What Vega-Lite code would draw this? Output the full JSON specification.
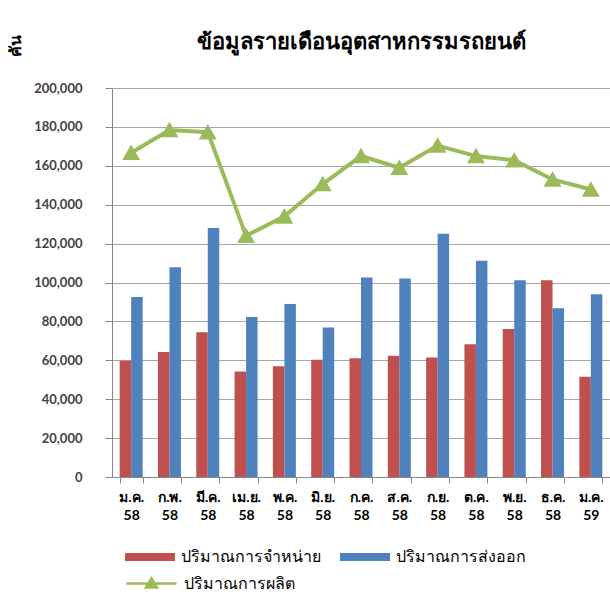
{
  "$schema": "https://vega.github.io/schema/vega-lite/v6.json",
  "autosize": "none",
  "width": 498,
  "height": 389,
  "padding": {"left": 112, "top": 88, "right": 0, "bottom": 125},
  "background": "white",
  "config": {"view": {"stroke": null}, "font": "Lato"},
  "title": {"text": "ข้อมูลรายเดือนอุตสาหกรรมรถยนต์", "fontSize": 22, "fontWeight": "bold", "font": "Lato", "color": "black", "anchor": "middle", "offset": -20},
  "datasets": {
    "bars": [
      {"month": "ม.ค. 58", "series": "ปริมาณการจำหน่าย", "value": 59800},
      {"month": "ม.ค. 58", "series": "ปริมาณการส่งออก", "value": 92600},
      {"month": "ก.พ. 58", "series": "ปริมาณการจำหน่าย", "value": 64300},
      {"month": "ก.พ. 58", "series": "ปริมาณการส่งออก", "value": 107900},
      {"month": "มี.ค. 58", "series": "ปริมาณการจำหน่าย", "value": 74400},
      {"month": "มี.ค. 58", "series": "ปริมาณการส่งออก", "value": 128000},
      {"month": "เม.ย. 58", "series": "ปริมาณการจำหน่าย", "value": 54300},
      {"month": "เม.ย. 58", "series": "ปริมาณการส่งออก", "value": 82200},
      {"month": "พ.ค. 58", "series": "ปริมาณการจำหน่าย", "value": 57000},
      {"month": "พ.ค. 58", "series": "ปริมาณการส่งออก", "value": 88900},
      {"month": "มิ.ย. 58", "series": "ปริมาณการจำหน่าย", "value": 60300},
      {"month": "มิ.ย. 58", "series": "ปริมาณการส่งออก", "value": 76800},
      {"month": "ก.ค. 58", "series": "ปริมาณการจำหน่าย", "value": 61000},
      {"month": "ก.ค. 58", "series": "ปริมาณการส่งออก", "value": 102600},
      {"month": "ส.ค. 58", "series": "ปริมาณการจำหน่าย", "value": 62400},
      {"month": "ส.ค. 58", "series": "ปริมาณการส่งออก", "value": 102000},
      {"month": "ก.ย. 58", "series": "ปริมาณการจำหน่าย", "value": 61500},
      {"month": "ก.ย. 58", "series": "ปริมาณการส่งออก", "value": 125100},
      {"month": "ต.ค. 58", "series": "ปริมาณการจำหน่าย", "value": 68200},
      {"month": "ต.ค. 58", "series": "ปริมาณการส่งออก", "value": 111200},
      {"month": "พ.ย. 58", "series": "ปริมาณการจำหน่าย", "value": 76100},
      {"month": "พ.ย. 58", "series": "ปริมาณการส่งออก", "value": 101200},
      {"month": "ธ.ค. 58", "series": "ปริมาณการจำหน่าย", "value": 101200},
      {"month": "ธ.ค. 58", "series": "ปริมาณการส่งออก", "value": 86800},
      {"month": "ม.ค. 59", "series": "ปริมาณการจำหน่าย", "value": 51500},
      {"month": "ม.ค. 59", "series": "ปริมาณการส่งออก", "value": 94000}
    ],
    "prod": [
      {"month": "ม.ค. 58", "value": 166700},
      {"month": "ก.พ. 58", "value": 178400},
      {"month": "มี.ค. 58", "value": 177300},
      {"month": "เม.ย. 58", "value": 124000},
      {"month": "พ.ค. 58", "value": 134000},
      {"month": "มิ.ย. 58", "value": 150600},
      {"month": "ก.ค. 58", "value": 165000},
      {"month": "ส.ค. 58", "value": 159000},
      {"month": "ก.ย. 58", "value": 170400},
      {"month": "ต.ค. 58", "value": 165000},
      {"month": "พ.ย. 58", "value": 162900},
      {"month": "ธ.ค. 58", "value": 153000},
      {"month": "ม.ค. 59", "value": 147800}
    ]
  },
  "encoding": {
    "x": {
      "field": "month", "type": "nominal",
      "sort": ["ม.ค. 58","ก.พ. 58","มี.ค. 58","เม.ย. 58","พ.ค. 58","มิ.ย. 58","ก.ค. 58","ส.ค. 58","ก.ย. 58","ต.ค. 58","พ.ย. 58","ธ.ค. 58","ม.ค. 59"],
      "scale": {"paddingInner": 0.4, "paddingOuter": 0.2},
      "axis": {
        "title": null, "labelAngle": 0, "grid": false, "labelOverlap": false,
        "tickBand": "extent", "tickSize": 6, "tickColor": "#888888", "domainColor": "#888888",
        "labelExpr": "split(datum.label, ' ')",
        "labelFont": "Lato", "labelFontSize": 14, "labelFontWeight": "bold", "labelColor": "black",
        "labelLineHeight": 18, "labelPadding": 7
      }
    },
    "y": {
      "field": "value", "type": "quantitative",
      "scale": {"domain": [0, 200000]},
      "axis": {
        "title": "คัน", "titleAngle": -90, "titleX": -97, "titleY": -43, "titleAlign": "center", "titleBaseline": "middle",
        "titleFont": "Lato", "titleFontSize": 16, "titleFontWeight": "bold", "titleColor": "black",
        "values": [0,20000,40000,60000,80000,100000,120000,140000,160000,180000,200000],
        "labelOverlap": false, "labelSeparation": 0,
        "format": ",d", "labelFont": "Lato", "labelFontSize": 13, "labelFontWeight": "bold", "labelColor": "#404040",
        "labelPadding": 23, "tickSize": 7, "tickColor": "#888888", "domainColor": "#888888",
        "grid": true, "gridColor": "#A6A6A6", "gridWidth": 1.2
      }
    }
  },
  "layer": [
    {
      "data": {"name": "bars"},
      "mark": {"type": "bar"},
      "encoding": {
        "xOffset": {"field": "series", "sort": ["ปริมาณการจำหน่าย", "ปริมาณการส่งออก"]},
        "fill": {
          "field": "series",
          "scale": {"domain": ["ปริมาณการจำหน่าย", "ปริมาณการส่งออก"], "range": ["#C0504D", "#4F81BD"]},
          "legend": {
            "title": null, "orient": "none", "direction": "horizontal", "legendX": 13, "legendY": 444,
            "symbolType": "M-1,-0.16H1V0.16H-1Z", "symbolSize": 2500, "symbolStrokeWidth": 0,
            "labelFont": "Lato", "labelFontSize": 16, "labelColor": "black", "labelOffset": 6, "columnPadding": 19
          }
        }
      }
    },
    {
      "data": {"name": "prod"},
      "mark": {"type": "line", "strokeWidth": 4, "point": {"shape": "triangle-up", "size": 210, "filled": true, "color": "#9BBB59"}},
      "encoding": {
        "stroke": {
          "datum": "ปริมาณการผลิต",
          "scale": {"domain": ["ปริมาณการผลิต"], "range": ["#9BBB59"]},
          "legend": {
            "title": null, "orient": "none", "legendX": 13, "legendY": 469,
            "symbolType": "M-1,0H1M-0.22,0.16L0,-0.2L0.22,0.16Z", "symbolSize": 2500, "symbolStrokeWidth": 2.5,
            "symbolFillColor": "#9BBB59", "symbolStrokeColor": "#9BBB59",
            "labelFont": "Lato", "labelFontSize": 16, "labelColor": "black", "labelOffset": 6
          }
        }
      }
    }
  ]
}
